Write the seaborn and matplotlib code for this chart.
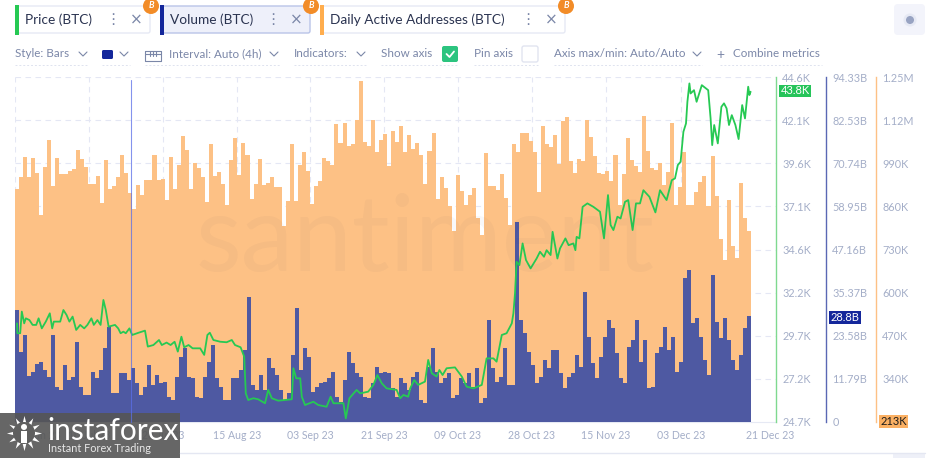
import numpy as np
import seaborn as sns
import matplotlib.pyplot as plt
from matplotlib.patches import Circle, FancyBboxPatch, Rectangle

# daily active addresses, thousands per day
daa = [913, 949, 1011, 949, 1007, 961, 835, 980, 1060, 923, 1008, 958, 959, 966, 972, 1030, 1004, 978, 928, 928,
	951, 872, 1000, 914, 923, 950, 1015, 960, 902, 854, 924, 894, 940, 940, 1016, 941, 942, 881, 1011, 914,
	986, 1074, 1032, 913, 990, 977, 950, 874, 1049, 951, 965, 928, 866, 1001, 1067, 954, 1052, 1016, 883, 928,
	1004, 926, 932, 948, 918, 919, 803, 876, 1049, 878, 986, 1026, 968, 868, 921, 938, 1007, 997, 984, 1109,
	1053, 1112, 1044, 1048, 1121, 1238, 1056, 1042, 1122, 1025, 1061, 1080, 981, 1088, 1055, 1102, 1024, 1075, 1035, 1052,
	1016, 929, 1028, 1083, 884, 949, 915, 863, 786, 955, 906, 864, 896, 916, 826, 776, 1021, 921, 921, 909,
	957, 885, 804, 1049, 1026, 1082, 1081, 1057, 1024, 904, 1102, 1050, 1040, 1075, 989, 1119, 1129, 998, 960, 1004,
	998, 1122, 1069, 1014, 960, 959, 968, 936, 1017, 866, 958, 1068, 1000, 981, 964, 1132, 1028, 976, 969, 991,
	924, 965, 1113, 864, 918, 1026, 864, 864, 905, 933, 951, 861, 1014, 892, 763, 701, 880, 742, 706, 932,
	826, 788]

# volume, billions
volume = [30.6, 19.2, 23.8, 12.6, 13.8, 15.9, 16.5, 14.2, 12.2, 23.8, 9.7, 8.7, 15.6, 11.5, 12.2, 22.0, 9.7, 7.4, 7.4, 13.8,
	11.9, 14.2, 20.1, 26.1, 7.8, 7.8, 13.3, 13.3, 11.5, 14.7, 10.6, 7.4, 9.7, 15.6, 10.1, 12.9, 10.6, 11.0, 6.9, 6.0,
	12.4, 17.9, 20.1, 12.4, 11.9, 6.9, 6.5, 12.4, 16.5, 21.1, 11.9, 9.7, 6.0, 6.0, 11.9, 11.9, 14.2, 19.7, 34.3, 10.1,
	8.7, 12.9, 8.7, 17.4, 14.7, 12.9, 8.7, 6.0, 7.8, 18.3, 31.1, 14.2,
	20.1, 17.9, 8.3, 9.7, 10.6, 11.0, 11.9, 13.8, 6.9, 5.6, 11.5, 19.2, 16.0, 13.3, 12.4, 6.9, 6.5, 10.6, 15.1, 13.3,
	13.8, 13.3, 9.2, 6.9, 11.9, 10.6, 8.7, 12.4, 13.8, 6.0, 5.1, 15.1, 20.1, 13.8, 10.6, 11.9, 13.3, 6.5, 7.4, 11.9,
	10.6, 13.3, 9.7, 14.7, 5.1, 6.5, 27.9, 14.7, 11.0, 12.4, 20.1, 10.1, 10.1, 54.7, 27.9, 24.2, 19.2, 15.6, 10.6, 12.4,
	17.0, 14.7, 19.7, 19.7, 13.3, 9.2, 12.4, 13.3, 18.3, 15.1, 35.6, 23.3, 16.0, 11.9, 17.9, 23.3, 27.9, 25.6, 18.8, 11.9,
	10.6, 20.6, 22.4, 27.9, 16.5, 22.4, 9.2, 9.7, 18.8, 20.6, 26.1, 19.7, 23.3, 13.8, 16.5, 39.3, 41.6,
	27.0, 28.3, 23.3, 17.0, 12.9, 40.2, 27.4, 22.9, 28.3, 22.4, 17.0, 14.2, 18.3, 25.6, 29.0]

# price, thousands, read at irregular day positions
price_day = [0, 0.1, 0.8, 1.2, 1.8, 2.2, 3.1, 3.9, 4.8, 5.4, 6.2, 7.2, 8.2, 8.8, 9.2, 10.8, 11.6, 12.4, 13.1, 13.9,
	14.8, 15.8, 16.8, 17.6, 18.6, 19.2, 20.1, 20.9, 21.6, 22.2, 22.9, 24.5, 25.3, 25.9, 26.6, 27.2, 28.1, 28.8, 30.4, 32,
	32.7, 34.1, 35.5, 36.2, 37.4, 38.4, 39.4, 40.2, 41.1, 41.8, 42.9, 43.9, 45.8, 46.8, 47.6, 48.2, 49.1, 50.8, 52.4, 53.7,
	54.5, 55.9, 56.8, 57.2, 57.8, 59.1, 60.3, 62, 62.8, 63.7, 65.3, 67, 68.7, 69.1, 69.8, 70.8,
	71.2, 72, 74.1, 75.3, 77.4, 78.4, 79.1, 81.6, 82.2, 83.1, 84.9, 85.8, 87.8, 89.1, 90.1, 91.2, 92.4, 94.9, 95.8, 96.6,
	97.8, 98.3, 99.3, 100.3, 102, 102.8, 103.7, 104.9, 105.6, 106.4, 107.4, 109.5, 111.2, 112.4, 114.1, 116.2, 117.4, 119.1, 119.9, 121.2,
	122.4, 123.7, 124.1, 124.5, 124.9, 125.6, 126.4, 127.25, 128.4, 129.9, 130.75, 131.75, 132.4, 133.4, 133.9, 135.1, 135.75, 137.1, 137.9, 139.1,
	139.6, 139.9, 140.6, 141.4, 142.6, 144.1, 145.75, 146.75, 147.75, 148.4, 149.1, 150.1, 150.9, 152, 152.8, 153.9, 154.75, 155.75, 156.6, 158.1,
	159.6, 160.75, 162.4, 163.7, 164.5, 165.2, 165.9, 166.6, 167.25, 167.6, 168.1, 168.4, 169.25, 169.9, 171.2, 172.8, 173.4, 173.8, 174.3, 175.2,
	176.1, 176.75, 177.4, 178, 178.7, 179.6, 180.4, 181.3, 182, 182.8, 183.1, 183.4]
price = [30.39, 29.82, 29.82, 31.07, 30.39, 30.68, 30.58, 30.30, 30.30, 30.68, 30.10, 30.49, 30.97, 30.10, 30.49, 30.49, 31.16, 30.87, 30.49, 30.78,
	30.01, 30.30, 30.10, 30.30, 30.68, 30.30, 30.58, 30.30, 31.74, 31.16, 30.20, 30.30, 30.10, 29.82, 29.91, 29.82, 30.10, 29.72, 29.85, 29.97,
	29.05, 29.14, 29.43, 29.14, 29.28, 29.14, 29.33, 28.76, 29.62, 29.01, 29.14, 28.95, 28.95, 28.57, 29.72, 29.85, 29.43, 29.33, 29.30, 29.43,
	29.14, 29.01, 28.47, 26.35, 25.97, 26.07, 26.01, 25.78, 26.55, 26.07, 25.93, 25.97, 26.01, 27.80, 27.22, 27.22,
	26.16, 25.68, 25.87, 25.68, 25.58, 26.16, 25.78, 25.78, 24.91, 26.07, 26.55, 26.35, 26.45, 26.84, 27.41, 26.93, 26.64, 26.55, 26.07, 26.26,
	26.16, 26.64, 27.12, 26.84, 27.03, 28.28, 27.51, 27.32, 27.70, 27.41, 27.80, 27.85, 27.32, 26.74, 26.64, 26.84, 28.37, 28.37, 28.18, 29.72,
	29.82, 30.39, 30.97, 32.11, 33.94, 33.75, 35.00, 34.04, 33.56, 34.13, 34.52, 34.23, 34.61, 34.33, 35.67, 34.13, 34.71, 35.29, 34.90, 35.00,
	34.61, 35.38, 35.29, 37.11, 37.31, 37.11, 36.83, 35.29, 37.79, 36.06, 35.77, 36.54, 36.44, 37.40, 37.50, 35.77, 37.31, 37.31, 38.07, 37.69,
	36.79, 38.07, 37.50, 38.65, 38.75, 39.52, 39.71, 41.44, 41.92, 43.17, 44.23, 43.65, 43.84, 43.17, 44.13, 43.84, 42.21, 40.67, 41.83, 40.77,
	42.88, 43.08, 42.79, 41.83, 42.40, 41.83, 41.02, 42.98, 42.21, 44.04, 43.56, 43.75]

price_labels = ['24.7K', '27.2K', '29.7K', '32.2K', '34.6K', '37.1K', '39.6K', '42.1K', '44.6K']
volume_labels = ['0', '11.79B', '23.58B', '35.37B', '47.16B', '58.95B', '70.74B', '82.53B', '94.33B']
# the lowest one is shown by the 213K tag
daa_labels = ['', '340K', '470K', '600K', '730K', '860K', '990K', '1.12M', '1.25M']
date_labels = ['22 Jun 23', '10 Jul 23', '28 Jul 23', '15 Aug 23', '03 Sep 23', '21 Sep 23', '09 Oct 23', '28 Oct 23', '15 Nov 23', '03 Dec 23', '21 Dec 23']

GREEN = '#26c953'
NAVY = '#14279b'
ORANGE = '#ffad4d'
TICK = '#a4aec8'
UI = '#7b87a8'
FONT = 'Lato'


def px_x(x):
	# left edge of the first bar is x=15, one day is 4 px
	return (x - 15) / 4 - 0.5


def tab(ui, x0, x1, name, colour, fill='white', edge='#e6e9f4'):
	ui.add_patch(FancyBboxPatch((x0 + 2, 6), x1 - x0 - 4, 27, boxstyle='round,pad=0,rounding_size=2', mutation_scale=1,
		fc=fill, ec=edge, lw=1))
	ui.add_patch(Rectangle((x0, 5), 4, 30, fc=colour, ec='none'))
	ui.text(x0 + 10, 19.5, name, fontsize=9.8, color='#2a3350', va='center', family=FONT)
	ui.text(x1 - 39, 19.5, '⋮', fontsize=11, color=UI, va='center', ha='center', family='DejaVu Sans')
	ui.text(x1 - 16, 19.5, '×', fontsize=11, color=UI, va='center', ha='center', family='DejaVu Sans')
	ui.add_patch(Circle((x1 - 1, 6), 8, fc='#f28c28', ec='none'))
	ui.text(x1 - 1, 6, 'B', fontsize=6.5, color='white', weight='bold', style='italic', va='center', ha='center', family=FONT)


def chevron(ui, x, y=54):
	ui.plot([x - 4, x, x + 4], [y - 2, y + 2, y - 2], color=UI, lw=0.8)


def toolbar(ui):
	labels = [(15, 'Style: Bars', 83), (169, 'Interval: Auto (4h)', 274), (294, 'Indicators:', 361),
		(381, 'Show axis', None), (474, 'Pin axis', None), (554, 'Axis max/min: Auto/Auto', 697), (733, 'Combine metrics', None)]
	for x, name, chev in labels:
		ui.text(x, 53.5, name, fontsize=8.4, color=UI, va='center', family=FONT)
		if chev:
			chevron(ui, chev)
	for x0, x1 in [(15, 88), (102, 130), (145, 280), (294, 366), (381, 458), (474, 538), (554, 702), (720, 822)]:
		ui.plot([x0, x1], [65, 65], color='#dfe3ef', lw=0.7, ls=(0, (2, 2)))
	ui.add_patch(FancyBboxPatch((102, 50), 11, 9, boxstyle='round,pad=0,rounding_size=1.5', mutation_scale=1, fc=NAVY, ec='none'))
	chevron(ui, 124)
	ui.plot([145, 145, 161, 161, 145], [51, 61, 61, 51, 51], color=UI, lw=0.8)
	ui.plot([145, 161], [53.5, 53.5], color=UI, lw=0.8)
	for x in [150, 153, 156]:
		ui.plot([x, x], [51, 56], color=UI, lw=0.8)
	ui.add_patch(FancyBboxPatch((442, 46), 16, 16, boxstyle='round,pad=0,rounding_size=2', mutation_scale=1, fc='#2cc47f', ec='none'))
	ui.plot([446.5, 449.5, 454], [54, 57, 51.5], color='white', lw=1.3)
	ui.add_patch(FancyBboxPatch((522, 46), 16, 16, boxstyle='round,pad=0,rounding_size=2', mutation_scale=1, fc='white', ec='#e1e4f0', lw=1))
	ui.text(720, 55, '+', fontsize=10, color=UI, va='center', ha='center', family=FONT)
	ui.add_patch(FancyBboxPatch((894, 4), 31, 31, boxstyle='round,pad=0,rounding_size=4', mutation_scale=1, fc='#f3f4fb', ec='none'))
	ui.add_patch(Circle((910, 20), 6.5, fc='#e6e9f4', ec='none'))
	ui.add_patch(Circle((910, 20), 4, fc='#98a3c2', ec='none'))


def value_tag(ui, x0, x1, y0, y1, text, fill, colour):
	ui.add_patch(Rectangle((x0, y0), x1 - x0, y1 - y0, fc=fill, ec='none'))
	ui.text((x0 + x1) / 2, (y0 + y1) / 2, text, fontsize=8, color=colour, va='center', ha='center', family=FONT)


def logo(ui):
	ui.add_patch(Rectangle((0, 413), 180, 45, fc='#555555', ec='none', alpha=0.9))
	ui.scatter([24], [433], s=640, marker=(12, 1, 0), c='white', lw=0)
	ui.add_patch(Circle((24, 433), 11, fc='#5f5f5f', ec='none'))
	ui.add_patch(Circle((24, 427), 3, fc='white', ec='none'))
	ui.add_patch(Rectangle((21, 431), 6, 12, fc='white', ec='none'))
	ui.text(47, 431, 'instaforex', fontsize=21.5, color='white', va='center', family=FONT)
	ui.text(48, 449, 'Instant Forex Trading', fontsize=7.8, color='#e8e8e8', va='center', family=FONT)


def main():
	sns.set_theme(style='white')
	plt.rcParams['font.family'] = [FONT, 'DejaVu Sans']

	fig = plt.figure(figsize=(9.44, 4.58), dpi=100)
	rect = [15 / 944, 1 - 422 / 458, (776 - 15) / 944, (422 - 77) / 458]
	ax_daa = fig.add_axes(rect)
	ax_vol = ax_daa.twinx()
	ax_price = ax_daa.twinx()

	# the address bars are a little wider than the volume bins
	vol_days = np.arange(len(volume))
	daa_step = len(volume) / len(daa)
	daa_days = np.arange(len(daa)) * daa_step
	sns.barplot(x=daa_days, y=daa, native_scale=True, width=1, color='#fdc185', saturation=1, linewidth=0, edgecolor='none', ax=ax_daa)
	sns.barplot(x=vol_days, y=volume, native_scale=True, width=1, color='#4e59a2', saturation=1, linewidth=0, edgecolor='none', ax=ax_vol)
	sns.lineplot(x=price_day, y=price, sort=False, errorbar=None, color=GREEN, lw=1.3, ax=ax_price)

	axis_rows = [
		(ax_price, 24.7, 44.6, price_labels, '#7fd98f', 0),
		(ax_vol, 0, 94.33, volume_labels, '#5a68b4', 50),
		(ax_daa, 213, 1250, daa_labels, '#fdc185', 100),
	]
	for ax, lo, hi, labels, spine, offset in axis_rows:
		ax.set_ylim(lo, hi)
		ax.set_xlim(px_x(15), px_x(776))
		ax.patch.set_visible(False)
		for side in ax.spines:
			ax.spines[side].set_visible(False)
		ax.yaxis.tick_right()
		ax.set_yticks(np.linspace(lo, hi, len(labels)), labels)
		ax.tick_params(axis='y', length=0, pad=4.5, labelsize=7.8, labelcolor=TICK, labelright=True, labelleft=False)
		ax.spines['right'].set_visible(True)
		ax.spines['right'].set_position(('outward', offset * 72 / 100))
		ax.spines['right'].set_color(spine)
		ax.spines['right'].set_linewidth(1)
		ax.set_ylabel('')

	tick_px = [89, 163, 237, 310, 384, 458, 532, 606, 681]
	ax_daa.set_xticks([px_x(38)] + [px_x(x) for x in tick_px] + [px_x(770.5)], date_labels)
	ax_daa.tick_params(axis='x', length=0, pad=5.5, labelsize=7.6, labelcolor=TICK)
	ax_daa.set_xlabel('')
	ax_vol.tick_params(axis='x', bottom=False, labelbottom=False)
	ax_price.tick_params(axis='x', bottom=False, labelbottom=False)
	ax_daa.spines['bottom'].set_visible(True)
	ax_daa.spines['bottom'].set_color('#e6e9f4')
	ax_daa.spines['bottom'].set_linewidth(0.8)

	# grid sits under the bars
	ax_daa.set_axisbelow(True)
	for x in [15] + tick_px:
		ax_daa.axvline(px_x(x), color='#e4e7f4', lw=0.8, ls=(0, (5, 4)), zorder=0)
	for y in np.linspace(213, 1250, 9)[1:]:
		ax_daa.axhline(y, color='#e4e7f4', lw=0.8, ls=(0, (5, 4)), zorder=0)

	# overlay in reference pixels for the app chrome
	ui = fig.add_axes([0, 0, 1, 1], zorder=10)
	ui.set_xlim(0, 944)
	ui.set_ylim(458, 0)
	ui.axis('off')
	tab(ui, 15, 152, 'Price (BTC)', GREEN)
	tab(ui, 160, 312, 'Volume (BTC)', NAVY, fill='#eef0fa', edge='#b9c4e8')
	tab(ui, 320, 567, 'Daily Active Addresses (BTC)', ORANGE)
	toolbar(ui)
	ui.text(425, 241, 'santiment', fontsize=76, color='#3a3a5a', alpha=0.035, va='center', ha='center', family=FONT)
	ui.plot([130.5, 130.5], [80, 422], color='#5b6fe8', lw=0.8, alpha=0.75)
	value_tag(ui, 779, 811, 84.5, 97, '43.8K', '#26c45a', 'white')
	value_tag(ui, 829, 861, 311, 323.5, '28.8B', NAVY, 'white')
	value_tag(ui, 879, 908, 415, 428, '213K', '#fbb063', '#1a1a1a')
	ui.plot([180, 925], [453, 453], color='#e4e7f2', lw=1)
	ui.add_patch(Rectangle((893, 453), 32, 5, fc='#eef0f8', ec='none'))
	logo(ui)

	plt.savefig('out.png', dpi=100)


if __name__ == '__main__':
	main()
